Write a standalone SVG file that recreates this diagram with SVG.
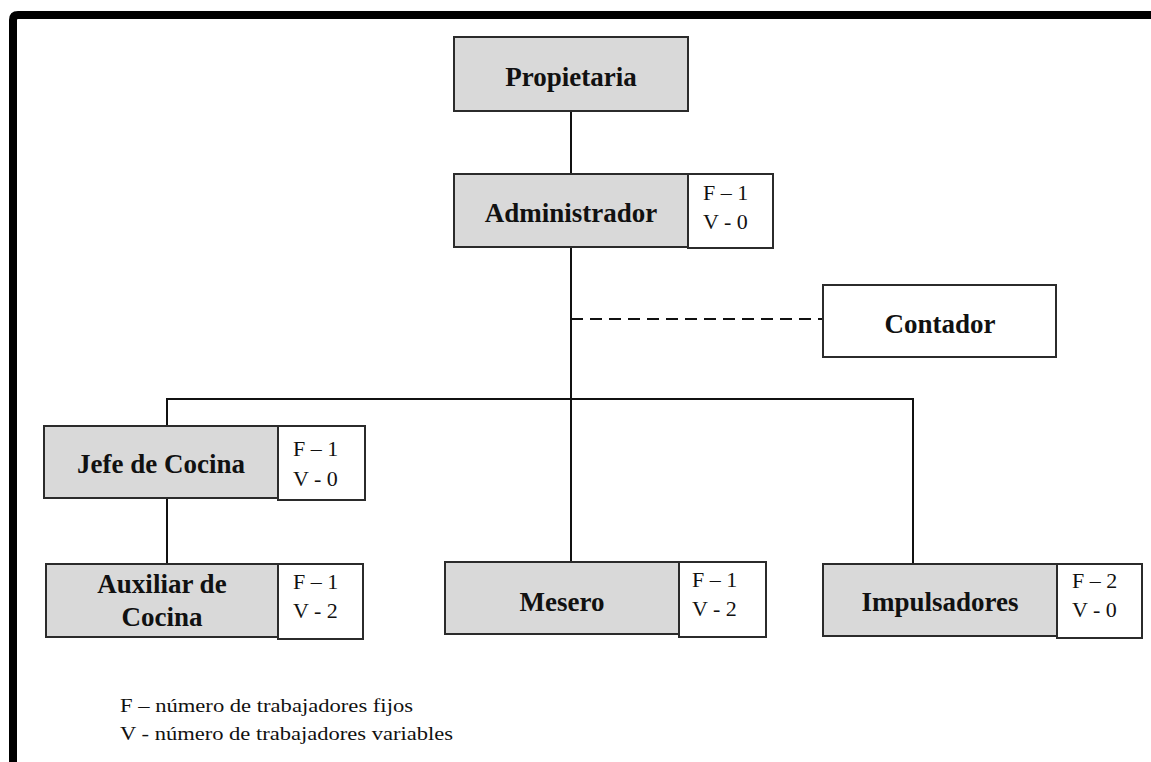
<svg xmlns="http://www.w3.org/2000/svg" width="1151" height="762" viewBox="0 0 1151 762">
<style>
.box{fill:#d9d9d9;stroke:#2b2b2b;stroke-width:2}
.wbox{fill:#fff;stroke:#2b2b2b;stroke-width:2}
.t{font-family:"Liberation Serif","Times New Roman",serif;font-weight:bold;font-size:27px;fill:#111;text-anchor:middle}
.fv{font-family:"Liberation Serif","Times New Roman",serif;font-size:22px;fill:#111}
.lg{font-family:"Liberation Serif","Times New Roman",serif;font-size:18px;fill:#111}
.ln{stroke:#111;stroke-width:2;fill:none}
</style>
<rect width="1151" height="762" fill="#fff"/>
<path d="M13 762 V20 Q13 15 18 15 H1151" fill="none" stroke="#000" stroke-width="8"/>
<g id="connectors">
<line class="ln" x1="571" y1="111" x2="571" y2="174"/>
<line class="ln" x1="571" y1="248" x2="571" y2="562"/>
<line class="ln" x1="571" y1="319" x2="823" y2="319" stroke-dasharray="12,7"/>
<polyline class="ln" points="167,426 167,399 913,399 913,564"/>
<line class="ln" x1="167" y1="499" x2="167" y2="564"/>
</g>
<g id="propietaria">
<rect class="box" x="454" y="37" width="234" height="74"/>
<text class="t" x="571" y="86">Propietaria</text>
</g>
<g id="administrador">
<rect class="box" x="454" y="174" width="234" height="73"/>
<text class="t" x="571" y="222">Administrador</text>
<rect class="wbox" x="688" y="174" width="85" height="74"/>
<text class="fv" x="703" y="200">F – 1</text>
<text class="fv" x="703" y="229">V - 0</text>
</g>
<g id="contador">
<rect class="wbox" x="823" y="285" width="233" height="72"/>
<text class="t" x="940" y="333">Contador</text>
</g>
<g id="jefe">
<rect class="box" x="44" y="426" width="234" height="72"/>
<text class="t" x="161" y="473">Jefe de Cocina</text>
<rect class="wbox" x="278" y="426" width="87" height="74"/>
<text class="fv" x="293" y="456">F – 1</text>
<text class="fv" x="293" y="486">V - 0</text>
</g>
<g id="auxiliar">
<rect class="box" x="46" y="564" width="232" height="73"/>
<text class="t" x="162" y="593">Auxiliar de</text>
<text class="t" x="162" y="626">Cocina</text>
<rect class="wbox" x="278" y="564" width="85" height="75"/>
<text class="fv" x="293" y="589">F – 1</text>
<text class="fv" x="293" y="618">V - 2</text>
</g>
<g id="mesero">
<rect class="box" x="445" y="562" width="234" height="72"/>
<text class="t" x="562" y="611">Mesero</text>
<rect class="wbox" x="679" y="562" width="87" height="75"/>
<text class="fv" x="692" y="587">F – 1</text>
<text class="fv" x="692" y="616">V - 2</text>
</g>
<g id="impulsadores">
<rect class="box" x="823" y="564" width="234" height="72"/>
<text class="t" x="940" y="611">Impulsadores</text>
<rect class="wbox" x="1057" y="564" width="85" height="74"/>
<text class="fv" x="1072" y="588">F – 2</text>
<text class="fv" x="1072" y="617">V - 0</text>
</g>
<g id="legend">
<text class="lg" x="120" y="712" textLength="293" lengthAdjust="spacingAndGlyphs">F – número de trabajadores fijos</text>
<text class="lg" x="120" y="740" textLength="333" lengthAdjust="spacingAndGlyphs">V  - número de trabajadores variables</text>
</g>
</svg>
